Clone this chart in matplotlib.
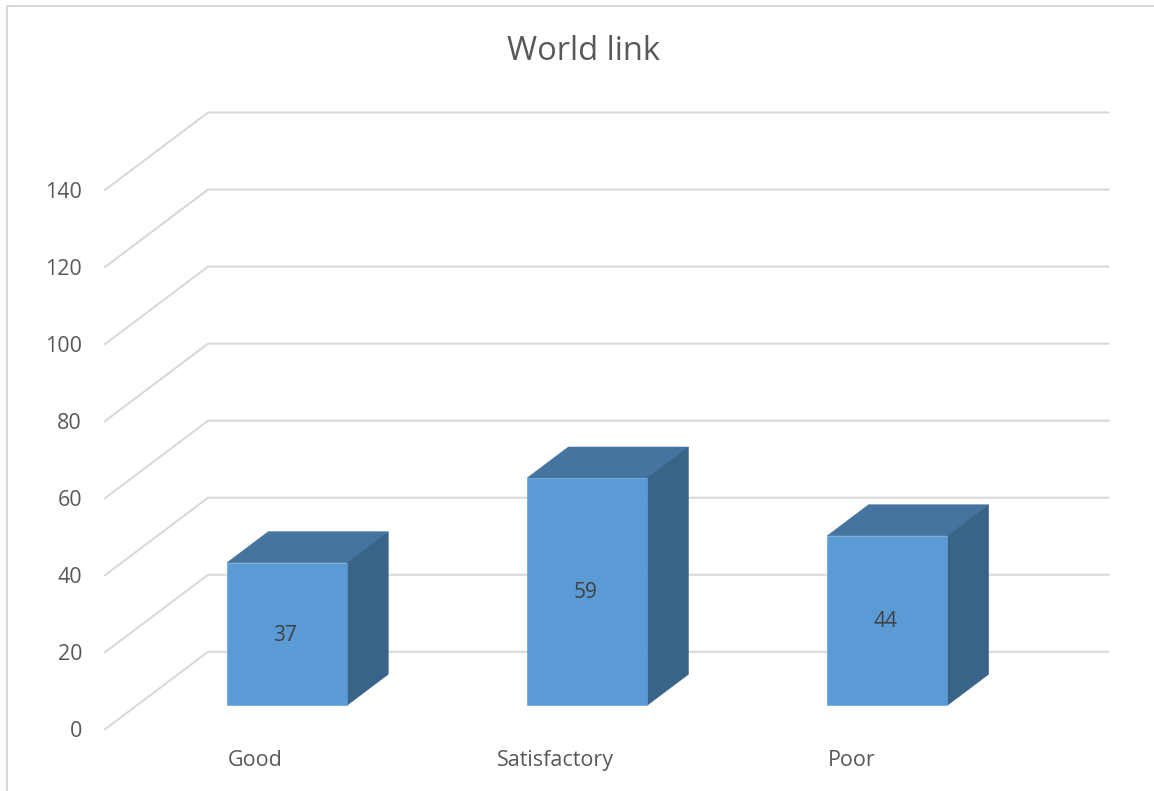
import matplotlib
matplotlib.use("Agg")
import matplotlib.pyplot as plt
from matplotlib.lines import Line2D
from matplotlib.patches import Polygon
from matplotlib.transforms import ScaledTranslation

categories = ["Good", "Satisfactory", "Poor"]
values = [37, 59, 44]
y_ticks = [0, 20, 40, 60, 80, 100, 120, 140]
chart_title = "World link"

W, H = 1154, 791
plt.rcParams["font.family"] = ["Open Sans", "DejaVu Sans"]
fig = plt.figure(figsize=(W / 100, H / 100), dpi=100)
fig.patch.set_facecolor("white")

# The axes rectangle is the front edge of the floor; everything deeper is sheared up and right.
LEFT, RIGHT, BOTTOM, TOP = 105, 1005.5, 729.3, 190
ax = fig.add_axes([LEFT / W, 1 - BOTTOM / H, (RIGHT - LEFT) / W, (BOTTOM - TOP) / H])
ax.set_xlim(-0.5, 2.5)
ax.set_ylim(0, 140)
ax.patch.set_visible(False)
for spine in ax.spines.values():
    spine.set_visible(False)

x_per_px = 3 / (RIGHT - LEFT)
y_per_px = 140 / (BOTTOM - TOP)
DEPTH_X = 103 * x_per_px
DEPTH_Y = 77.5 * y_per_px


def sheared(x, y, depth):
    return x + depth * DEPTH_X, y + depth * DEPTH_Y


# Floor and back-wall gridlines
GRID = "#d9d9d9"
for tick in y_ticks:
    corner = sheared(-0.5, tick, 1)
    end = sheared(2.5, tick, 1)
    ax.plot([-0.5, corner[0], end[0]], [tick, corner[1], end[1]], color=GRID, lw=1.5,
            solid_joinstyle="miter", clip_on=False, zorder=1)

# Three-faced columns
BAR_WIDTH = 0.4
NEAR, FAR = 0.31, 0.71
FRONT, TOP_FACE, SIDE = "#5b9bd5", "#44749f", "#3a6388"
for i, (label, value) in enumerate(zip(categories, values)):
    x0, x1 = i - BAR_WIDTH / 2, i + BAR_WIDTH / 2
    faces = [
        ([(x0, value, NEAR), (x1, value, NEAR), (x1, value, FAR), (x0, value, FAR)], TOP_FACE),
        ([(x1, 0, NEAR), (x1, 0, FAR), (x1, value, FAR), (x1, value, NEAR)], SIDE),
        ([(x0, 0, NEAR), (x1, 0, NEAR), (x1, value, NEAR), (x0, value, NEAR)], FRONT),
    ]
    for corners, colour in faces:
        ax.add_patch(Polygon([sheared(*c) for c in corners], closed=True, facecolor=colour,
                             edgecolor=colour, lw=0.4, clip_on=False, zorder=3))
    cx, cy = sheared(i, value / 2, NEAR)
    ax.text(cx - 2 * x_per_px, cy - 1 * y_per_px, str(value), ha="center", va="center",
            fontsize=15, color="#404040", zorder=4)

ax.set_yticks(y_ticks)
ax.set_xticks(range(len(categories)))
ax.set_xticklabels(categories)
ax.tick_params(axis="both", length=0, labelsize=15.5, labelcolor="#595959")
ax.tick_params(axis="y", pad=16.5)
ax.tick_params(axis="x", pad=15)
# The last category label sits slightly left of its column centre
last = ax.get_xticklabels()[-1]
last.set_transform(last.get_transform() + ScaledTranslation(-4 / 100, 0, fig.dpi_scale_trans))

fig.text(584 / W, 1 - 52 / H, chart_title, ha="center", va="center",
         fontsize=23.5, color="#595959")

# Chart-area border along the left and top
fig.add_artist(Line2D([7 / W, 7 / W, 1], [0, 1 - 6 / H, 1 - 6 / H], color=GRID, lw=1.5,
                      solid_joinstyle="miter"))

fig.savefig("out.png", dpi=100)
